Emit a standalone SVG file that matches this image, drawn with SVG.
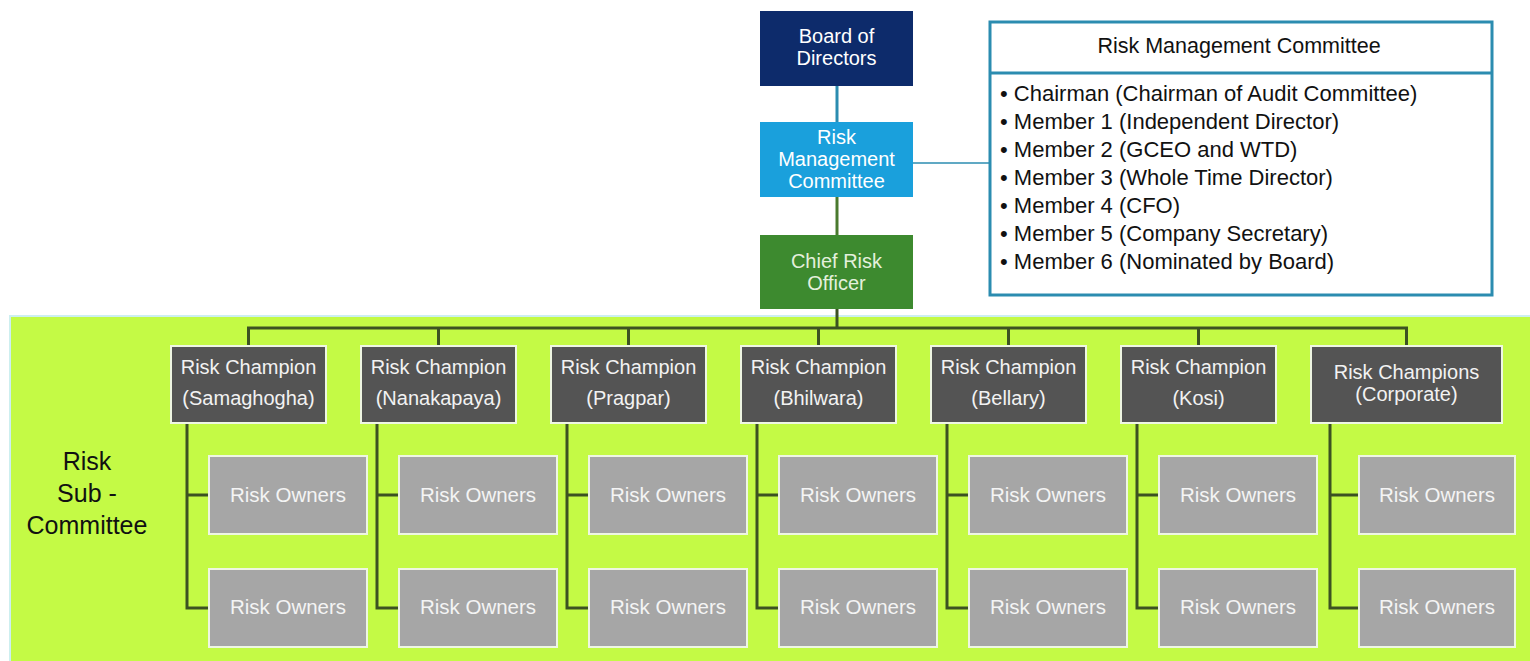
<svg xmlns="http://www.w3.org/2000/svg" width="1530" height="661" viewBox="0 0 1530 661">
<style>
text{font-family:"Liberation Sans",Arial,sans-serif}
.top{font-size:20px;fill:#ffffff;text-anchor:middle}
.champ rect{fill:#545454;stroke:#eef6e2;stroke-width:2}
.champ text{font-size:20px;fill:#f2f2f2;text-anchor:middle}
.owner rect{fill:#a6a6a6;stroke:#eef6e2;stroke-width:2}
.owner text{font-size:20.5px;fill:#f4f4f4;text-anchor:middle}
.bus{stroke:#3c5222;stroke-width:3;fill:none}
.list{font-size:22px;fill:#111111}
</style>
<rect x="0" y="0" width="1530" height="661" fill="#ffffff"/>
<rect id="subcommittee-area" x="10" y="316" width="1530" height="350" fill="#c4fa45" stroke="#cdeff0" stroke-width="2"/>
<text x="87" y="470" font-size="25px" fill="#111" text-anchor="middle">Risk</text>
<text x="87" y="502" font-size="25px" fill="#111" text-anchor="middle">Sub -</text>
<text x="87" y="534" font-size="25px" fill="#111" text-anchor="middle">Committee</text>

<g id="connectors">
<line x1="837" y1="86" x2="837" y2="122" stroke="#2b8cb0" stroke-width="3"/>
<line x1="837" y1="197" x2="837" y2="235" stroke="#4a7a2e" stroke-width="3"/>
<line x1="913" y1="163" x2="990" y2="163" stroke="#2b8cb0" stroke-width="1.5"/>
<path class="bus" d="M837 309V328M248.5 346V328H1406.5V346M438.5 328V346M628.5 328V346M818.5 328V346M1008.5 328V346M1198.5 328V346"/>
<path class="bus" d="M187 423V608H209M187 495H209"/>
<path class="bus" d="M377 423V608H399M377 495H399"/>
<path class="bus" d="M567 423V608H589M567 495H589"/>
<path class="bus" d="M757 423V608H779M757 495H779"/>
<path class="bus" d="M947 423V608H969M947 495H969"/>
<path class="bus" d="M1137 423V608H1159M1137 495H1159"/>
<path class="bus" d="M1330 423V608H1359M1330 495H1359"/>
</g>

<g id="board">
<rect x="760" y="11" width="153" height="75" fill="#0d2b6b"/>
<text class="top" x="836.5" y="43">Board of</text>
<text class="top" x="836.5" y="65">Directors</text>
</g>
<g id="rmc">
<rect x="760" y="122" width="153" height="75" fill="#1aa0dc"/>
<text class="top" x="836.5" y="144">Risk</text>
<text class="top" x="836.5" y="166">Management</text>
<text class="top" x="836.5" y="188">Committee</text>
</g>
<g id="cro">
<rect x="760" y="235" width="153" height="74" fill="#3d8a2f"/>
<text class="top" x="836.5" y="268" style="fill:#e4f0dc">Chief Risk</text>
<text class="top" x="836.5" y="290" style="fill:#e4f0dc">Officer</text>
</g>

<g id="rmc-members">
<rect x="990" y="22" width="502" height="273" fill="#ffffff" stroke="#2b8cb0" stroke-width="3"/>
<line x1="990" y1="73" x2="1492" y2="73" stroke="#2b8cb0" stroke-width="3"/>
<text x="1239" y="53" font-size="21.5px" fill="#111" text-anchor="middle">Risk Management Committee</text>
<text class="list" x="1000" y="101">• Chairman (Chairman of Audit Committee)</text>
<text class="list" x="1000" y="129">• Member 1 (Independent Director)</text>
<text class="list" x="1000" y="157">• Member 2 (GCEO and WTD)</text>
<text class="list" x="1000" y="185">• Member 3 (Whole Time Director)</text>
<text class="list" x="1000" y="213">• Member 4 (CFO)</text>
<text class="list" x="1000" y="241">• Member 5 (Company Secretary)</text>
<text class="list" x="1000" y="269">• Member 6 (Nominated by Board)</text>
</g>

<g id="champ-samaghogha" class="champ"><rect x="171" y="346" width="155" height="77"/><text x="248.5" y="374">Risk Champion</text><text x="248.5" y="405">(Samaghogha)</text></g>
<g id="champ-nanakapaya" class="champ"><rect x="361" y="346" width="155" height="77"/><text x="438.5" y="374">Risk Champion</text><text x="438.5" y="405">(Nanakapaya)</text></g>
<g id="champ-pragpar" class="champ"><rect x="551" y="346" width="155" height="77"/><text x="628.5" y="374">Risk Champion</text><text x="628.5" y="405">(Pragpar)</text></g>
<g id="champ-bhilwara" class="champ"><rect x="741" y="346" width="155" height="77"/><text x="818.5" y="374">Risk Champion</text><text x="818.5" y="405">(Bhilwara)</text></g>
<g id="champ-bellary" class="champ"><rect x="931" y="346" width="155" height="77"/><text x="1008.5" y="374">Risk Champion</text><text x="1008.5" y="405">(Bellary)</text></g>
<g id="champ-kosi" class="champ"><rect x="1121" y="346" width="155" height="77"/><text x="1198.5" y="374">Risk Champion</text><text x="1198.5" y="405">(Kosi)</text></g>
<g id="champ-corporate" class="champ"><rect x="1311" y="346" width="191" height="77"/><text x="1406.5" y="379">Risk Champions</text><text x="1406.5" y="401">(Corporate)</text></g>

<g id="owner-1a" class="owner"><rect x="209" y="456" width="158" height="78"/><text x="288" y="502">Risk Owners</text></g>
<g id="owner-1b" class="owner"><rect x="209" y="569" width="158" height="78"/><text x="288" y="614">Risk Owners</text></g>
<g id="owner-2a" class="owner"><rect x="399" y="456" width="158" height="78"/><text x="478" y="502">Risk Owners</text></g>
<g id="owner-2b" class="owner"><rect x="399" y="569" width="158" height="78"/><text x="478" y="614">Risk Owners</text></g>
<g id="owner-3a" class="owner"><rect x="589" y="456" width="158" height="78"/><text x="668" y="502">Risk Owners</text></g>
<g id="owner-3b" class="owner"><rect x="589" y="569" width="158" height="78"/><text x="668" y="614">Risk Owners</text></g>
<g id="owner-4a" class="owner"><rect x="779" y="456" width="158" height="78"/><text x="858" y="502">Risk Owners</text></g>
<g id="owner-4b" class="owner"><rect x="779" y="569" width="158" height="78"/><text x="858" y="614">Risk Owners</text></g>
<g id="owner-5a" class="owner"><rect x="969" y="456" width="158" height="78"/><text x="1048" y="502">Risk Owners</text></g>
<g id="owner-5b" class="owner"><rect x="969" y="569" width="158" height="78"/><text x="1048" y="614">Risk Owners</text></g>
<g id="owner-6a" class="owner"><rect x="1159" y="456" width="158" height="78"/><text x="1238" y="502">Risk Owners</text></g>
<g id="owner-6b" class="owner"><rect x="1159" y="569" width="158" height="78"/><text x="1238" y="614">Risk Owners</text></g>
<g id="owner-7a" class="owner"><rect x="1359" y="456" width="156" height="78"/><text x="1437" y="502">Risk Owners</text></g>
<g id="owner-7b" class="owner"><rect x="1359" y="569" width="156" height="78"/><text x="1437" y="614">Risk Owners</text></g>
</svg>
